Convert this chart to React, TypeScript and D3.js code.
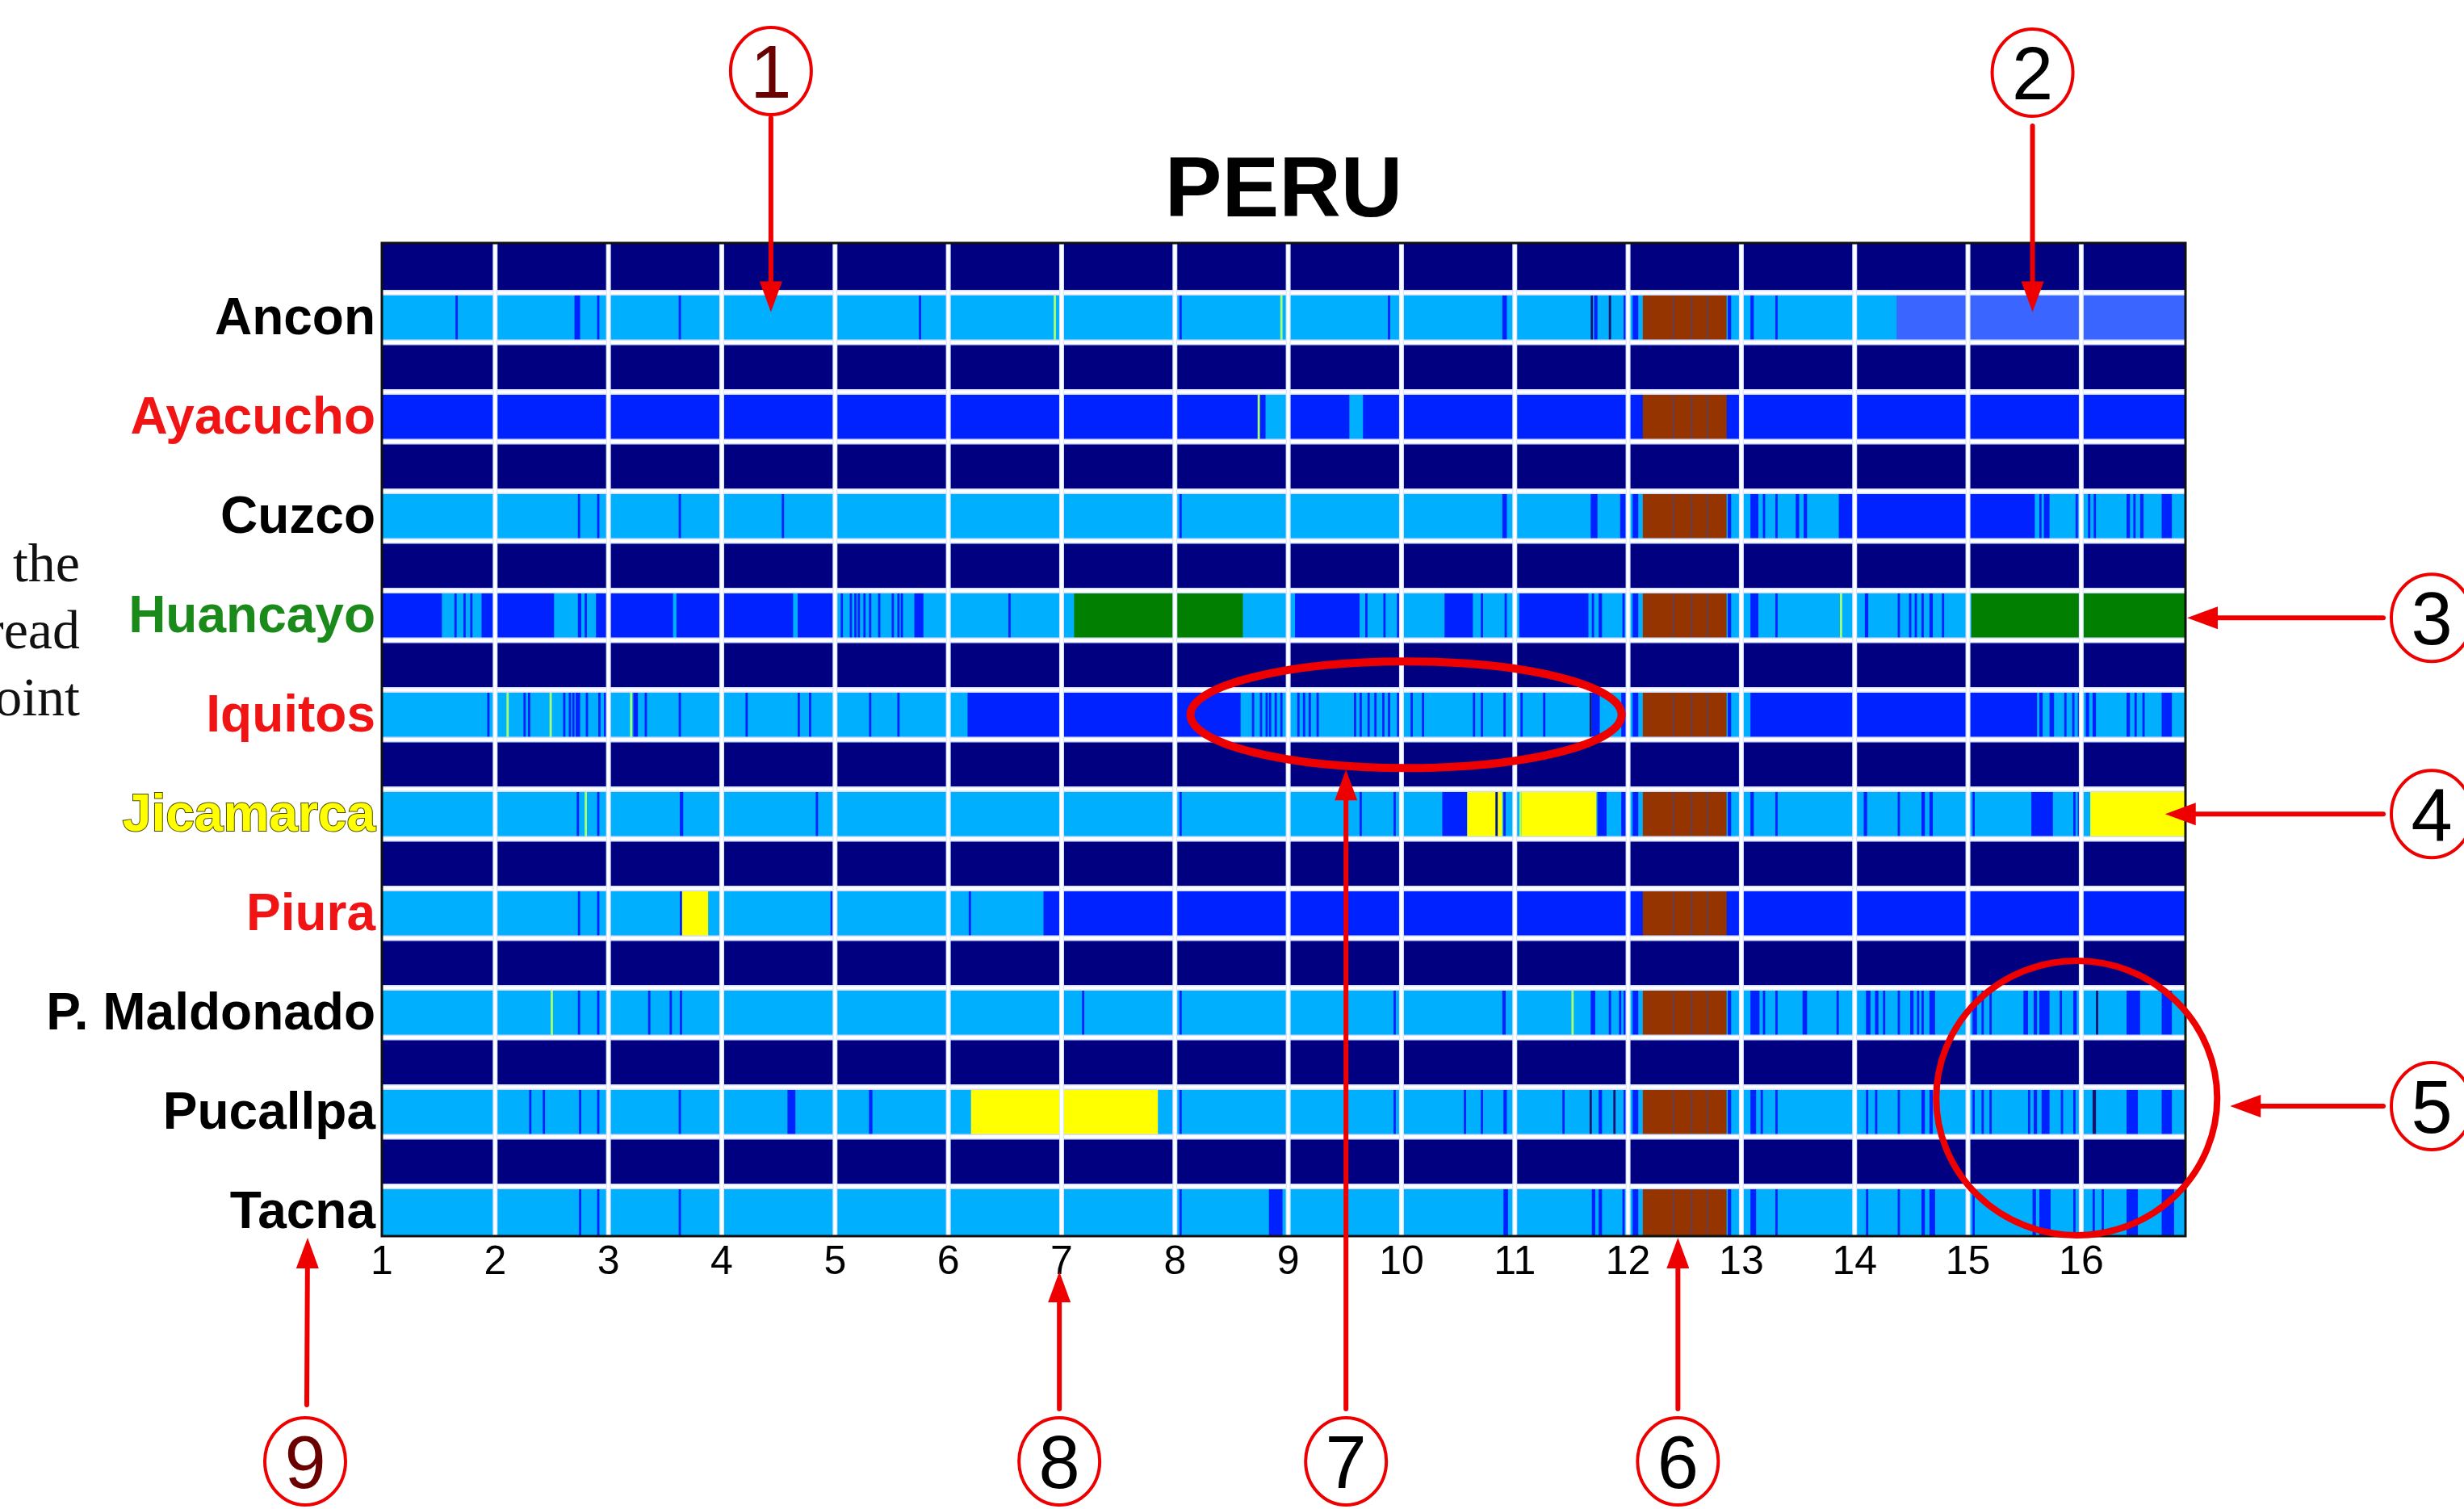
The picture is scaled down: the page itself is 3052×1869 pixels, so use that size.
import React from "react";
import * as d3 from "d3";

// ---------- DATA ----------
const stations = ["Ancon", "Ayacucho", "Cuzco", "Huancayo", "Iquitos", "Jicamarca", "Piura", "P. Maldonado", "Pucallpa", "Tacna"];
const labelColors = ["#000000", "#f01414", "#000000", "#1a8a1a", "#f01414", "#ffff00", "#f01414", "#000000", "#000000", "#000000"];
const baseCats = ["L", "B", "L", "L", "L", "L", "L", "L", "L", "L"];
const xTicks = [1, 2, 3, 4, 5, 6, 7, 8, 9, 10, 11, 12, 13, 14, 15, 16];
const xDomain = [1, 16.92];
const title = "PERU";

type Seg = [number, number, string];

// block common to every station around day 12-13
const brownBlock: Seg[] = [
  [12.04, 12.09, "B"], [12.13, 12.87, "R"], [12.39, 12.41, "D"], [12.55, 12.57, "D"], [12.69, 12.71, "D"], [12.88, 12.91, "B"],
];

const anconSegs: Seg[] = [
  [1.65, 1.67, "B"], [2.70, 2.75, "B"], [2.90, 2.92, "B"], [3.62, 3.64, "B"], [5.74, 5.76, "B"], [6.93, 6.95, "T"],
  [8.04, 8.06, "B"], [8.93, 8.95, "T"], [9.88, 9.90, "B"], [10.89, 10.93, "B"], [11.67, 11.69, "K"], [11.70, 11.73, "B"],
  [11.83, 11.85, "K"], [11.96, 11.98, "B"], [13.08, 13.11, "B"], [13.30, 13.32, "B"], [14.37, 16.92, "M"],
];
const ayacuchoSegs: Seg[] = [
  [8.73, 8.75, "T"], [8.80, 8.99, "L"], [9.54, 9.66, "L"],
];
const cuzcoSegs: Seg[] = [
  [2.73, 2.75, "B"], [2.90, 2.92, "B"], [3.62, 3.64, "B"], [4.53, 4.55, "B"], [8.04, 8.06, "B"], [10.89, 10.93, "B"],
  [11.67, 11.73, "B"], [11.93, 11.98, "B"], [13.08, 13.15, "B"], [13.19, 13.21, "B"], [13.30, 13.32, "B"], [13.48, 13.51, "B"],
  [13.55, 13.58, "B"], [13.86, 15.59, "B"], [15.63, 15.65, "B"], [15.67, 15.72, "B"], [15.95, 15.97, "B"], [16.06, 16.08, "B"],
  [16.11, 16.13, "B"], [16.40, 16.43, "B"], [16.46, 16.48, "B"], [16.52, 16.55, "B"], [16.71, 16.80, "B"],
];
const huancayoSegs: Seg[] = [
  [1.0, 1.53, "B"], [1.64, 1.66, "B"], [1.72, 1.74, "B"], [1.78, 1.80, "B"], [1.88, 2.52, "B"], [2.73, 2.76, "B"],
  [2.79, 2.81, "B"], [2.89, 3.57, "B"], [3.60, 4.63, "B"], [4.67, 5.0, "B"], [5.05, 5.07, "B"], [5.13, 5.15, "B"],
  [5.17, 5.19, "B"], [5.20, 5.22, "B"], [5.25, 5.27, "B"], [5.30, 5.32, "B"], [5.38, 5.40, "B"], [5.50, 5.52, "B"],
  [5.55, 5.57, "B"], [5.58, 5.60, "B"], [5.70, 5.78, "B"], [6.53, 6.55, "B"], [7.11, 8.60, "G"], [9.06, 9.63, "B"],
  [9.68, 9.70, "B"], [9.84, 9.86, "B"], [9.96, 9.98, "B"], [10.38, 10.63, "B"], [10.70, 10.72, "B"], [10.91, 10.93, "B"],
  [11.04, 11.65, "B"], [11.68, 11.70, "B"], [11.74, 11.77, "B"], [11.95, 11.97, "B"], [13.08, 13.15, "B"], [13.30, 13.32, "B"],
  [13.87, 13.89, "T"], [14.09, 14.12, "B"], [14.38, 14.40, "B"], [14.48, 14.50, "B"], [14.53, 14.55, "B"], [14.59, 14.61, "B"],
  [14.66, 14.69, "B"], [14.77, 14.79, "B"], [15.03, 16.92, "G"],
];
const iquitosSegs: Seg[] = [
  [1.93, 1.95, "B"], [2.10, 2.12, "T"], [2.25, 2.27, "B"], [2.29, 2.31, "B"], [2.48, 2.50, "T"], [2.60, 2.62, "B"],
  [2.65, 2.67, "B"], [2.68, 2.70, "B"], [2.71, 2.75, "B"], [2.80, 2.82, "B"], [2.91, 2.93, "B"], [2.96, 2.98, "B"],
  [3.19, 3.21, "T"], [3.22, 3.26, "B"], [3.32, 3.34, "B"], [3.62, 3.64, "B"], [4.21, 4.23, "B"], [4.67, 4.69, "B"],
  [4.77, 4.79, "B"], [5.30, 5.32, "B"], [5.55, 5.57, "B"], [6.17, 8.58, "B"], [8.68, 8.70, "B"], [8.75, 8.77, "B"],
  [8.80, 8.82, "B"], [8.83, 8.85, "B"], [8.88, 8.90, "B"], [8.93, 8.95, "B"], [9.08, 9.10, "B"], [9.13, 9.15, "B"],
  [9.18, 9.20, "B"], [9.25, 9.27, "B"], [9.58, 9.60, "B"], [9.63, 9.65, "B"], [9.70, 9.72, "B"], [9.76, 9.78, "B"],
  [9.83, 9.85, "B"], [9.88, 9.90, "B"], [9.96, 9.98, "B"], [10.08, 10.10, "B"], [10.18, 10.20, "B"], [10.63, 10.65, "B"],
  [10.70, 10.72, "B"], [10.90, 10.92, "B"], [11.05, 11.07, "B"], [11.25, 11.27, "B"], [11.66, 11.68, "K"], [11.68, 11.75, "B"],
  [11.94, 11.99, "B"], [13.08, 15.61, "B"], [15.63, 15.66, "B"], [15.72, 15.76, "B"], [15.85, 15.87, "B"], [15.92, 15.94, "B"],
  [15.97, 15.99, "B"], [16.04, 16.07, "B"], [16.10, 16.13, "B"], [16.40, 16.43, "B"], [16.47, 16.49, "B"], [16.54, 16.56, "B"],
  [16.71, 16.80, "B"],
];
const jicamarcaSegs: Seg[] = [
  [2.72, 2.74, "B"], [2.79, 2.81, "T"], [2.90, 2.92, "B"], [3.63, 3.66, "B"], [4.83, 4.85, "B"], [8.04, 8.06, "B"],
  [9.63, 9.65, "B"], [9.93, 9.95, "B"], [10.36, 10.58, "B"], [10.58, 10.83, "Y"], [10.83, 10.85, "K"], [10.85, 10.89, "Y"],
  [10.90, 10.92, "B"], [11.04, 11.06, "T"], [11.06, 11.72, "Y"], [11.73, 11.81, "B"], [11.94, 11.98, "B"], [13.08, 13.11, "B"],
  [13.30, 13.32, "B"], [14.08, 14.11, "B"], [14.38, 14.40, "B"], [14.59, 14.62, "B"], [14.66, 14.69, "B"], [15.04, 15.06, "B"],
  [15.56, 15.75, "B"], [15.93, 15.95, "B"], [15.97, 15.99, "B"], [16.08, 16.92, "Y"],
];
const piuraSegs: Seg[] = [
  [2.73, 2.75, "B"], [2.90, 2.92, "B"], [3.63, 3.65, "B"], [3.65, 3.88, "Y"], [4.96, 4.98, "B"], [6.18, 6.20, "B"],
  [6.84, 16.92, "B"],
];
const maldonadoSegs: Seg[] = [
  [2.49, 2.51, "T"], [2.73, 2.75, "B"], [2.90, 2.92, "B"], [3.35, 3.37, "B"], [3.54, 3.56, "B"], [3.63, 3.65, "B"],
  [7.18, 7.20, "B"], [8.04, 8.06, "B"], [9.93, 9.95, "B"], [10.89, 10.92, "B"], [11.50, 11.52, "T"], [11.67, 11.71, "B"],
  [11.83, 11.85, "B"], [11.92, 11.94, "B"], [11.96, 11.98, "B"], [13.08, 13.16, "B"], [13.19, 13.21, "B"], [13.30, 13.32, "B"],
  [13.54, 13.58, "B"], [13.84, 13.86, "B"], [14.10, 14.14, "B"], [14.18, 14.21, "B"], [14.25, 14.27, "B"], [14.38, 14.40, "B"],
  [14.49, 14.52, "B"], [14.55, 14.57, "B"], [14.59, 14.61, "B"], [14.66, 14.71, "B"], [15.04, 15.08, "B"], [15.12, 15.14, "B"],
  [15.19, 15.21, "B"], [15.49, 15.53, "B"], [15.58, 15.61, "B"], [15.63, 15.72, "B"], [15.81, 15.83, "B"], [15.93, 15.96, "B"],
  [16.13, 16.15, "K"], [16.40, 16.52, "B"], [16.71, 16.80, "B"],
];
const pucallpaSegs: Seg[] = [
  [2.30, 2.32, "B"], [2.42, 2.44, "B"], [2.74, 2.76, "B"], [2.90, 2.92, "B"], [3.62, 3.64, "B"], [4.58, 4.65, "B"],
  [5.30, 5.33, "B"], [6.20, 7.85, "Y"], [8.04, 8.06, "B"], [9.93, 9.95, "B"], [10.55, 10.57, "B"], [10.70, 10.72, "B"],
  [10.90, 10.93, "B"], [11.42, 11.44, "B"], [11.66, 11.68, "K"], [11.74, 11.77, "B"], [11.87, 11.89, "K"], [11.96, 11.98, "B"],
  [13.08, 13.13, "B"], [13.17, 13.19, "B"], [13.30, 13.32, "B"], [14.10, 14.12, "B"], [14.18, 14.20, "B"], [14.38, 14.40, "B"],
  [14.59, 14.62, "B"], [14.66, 14.69, "B"], [15.04, 15.06, "B"], [15.12, 15.14, "B"], [15.19, 15.21, "B"], [15.53, 15.55, "B"],
  [15.58, 15.61, "B"], [15.65, 15.72, "B"], [15.82, 15.84, "B"], [15.93, 15.95, "B"], [16.10, 16.13, "K"], [16.40, 16.50, "B"],
  [16.71, 16.80, "B"],
];
const tacnaSegs: Seg[] = [
  [2.74, 2.76, "B"], [2.90, 2.92, "B"], [3.62, 3.64, "B"], [8.04, 8.06, "B"], [8.83, 8.95, "B"], [10.90, 10.94, "B"],
  [11.68, 11.71, "B"], [11.74, 11.77, "B"], [11.95, 11.97, "B"], [13.08, 13.13, "B"], [13.30, 13.32, "B"], [14.10, 14.12, "B"],
  [14.38, 14.40, "B"], [14.59, 14.62, "B"], [14.66, 14.71, "B"], [15.04, 15.06, "B"], [15.57, 15.60, "B"], [15.63, 15.73, "B"],
  [15.93, 15.95, "B"], [16.10, 16.12, "B"], [16.18, 16.20, "B"], [16.40, 16.50, "B"], [16.71, 16.82, "B"],
];
const stationSegs: Seg[][] = [anconSegs, ayacuchoSegs, cuzcoSegs, huancayoSegs, iquitosSegs, jicamarcaSegs, piuraSegs, maldonadoSegs, pucallpaSegs, tacnaSegs];

// annotation markers (numbered callouts)
const calloutLabels = ["1", "2", "3", "4", "5", "6", "7", "8", "9"];

// ---------- STYLE ----------
const catColors: Record<string, string> = {
  L: "#00b0ff", B: "#0022ff", M: "#3a66ff", G: "#007f00", Y: "#ffff00", R: "#963400", D: "#6e3c3c", K: "#141470", T: "#a8ff70",
};
const NAVY = "#000080";
const RED = "#ee0000";

const W = 3052, H = 1869;
const PL = 473, PR = 2707, PT = 301, PB = 1531;

function Arrow({ x1, y1, x2, y2 }: { x1: number; y1: number; x2: number; y2: number }) {
  const ang = Math.atan2(y2 - y1, x2 - x1);
  const len = 38, hw = 14;
  const bx = x2 - len * Math.cos(ang), by = y2 - len * Math.sin(ang);
  const px = -Math.sin(ang) * hw, py = Math.cos(ang) * hw;
  return (
    <g>
      <line x1={x1} y1={y1} x2={bx} y2={by} stroke={RED} strokeWidth={6} strokeLinecap="round" />
      <polygon points={`${x2},${y2} ${bx + px},${by + py} ${bx - px},${by - py}`} fill={RED} />
    </g>
  );
}

function Callout({ cx, cy, label, color }: { cx: number; cy: number; label: string; color: string }) {
  return (
    <g>
      <ellipse cx={cx} cy={cy} rx={50} ry={54} fill="white" stroke={RED} strokeWidth={4} />
      <text x={cx} y={cy + 33} textAnchor="middle" fontSize={92} fontFamily="Liberation Sans, Arial, sans-serif" fill={color}>{label}</text>
    </g>
  );
}

export default function App() {
  const x = d3.scaleLinear().domain(xDomain).range([PL, PR]);
  const y = d3.scaleLinear().domain([0, 20]).range([PT, PB]);
  const font = "Liberation Sans, Arial, Helvetica, sans-serif";

  const rowTop = (i: number) => y(2 * i + 1);
  const rowBot = (i: number) => y(2 * i + 2);
  const rowMid = (i: number) => (rowTop(i) + rowBot(i)) / 2;

  const hLines = d3.range(1, 20);
  const vLines = xTicks.filter((t) => t > xDomain[0]);

  // callout geometry (anchored to chart through the scales)
  const topY = 88, botY = 1810, rightX = 3012, arrowFromRight = 2952, arrowFromBottom = 1745;
  const ell7 = { cx: x(10.04), cy: rowMid(4), rx: 267, ry: 66 };
  const ell5 = { cx: x(15.96), cy: 1360, rx: 174, ry: 170 };
  const callouts = [
    { label: calloutLabels[0], cx: x(4.434), cy: topY, color: "#6a0000", arrow: [x(4.434), 146, x(4.434), rowTop(0) + 24] },
    { label: calloutLabels[1], cx: x(15.57), cy: topY + 2, color: "#000", arrow: [x(15.57), 156, x(15.57), rowTop(0) + 24] },
    { label: calloutLabels[2], cx: rightX, cy: rowMid(3) + 3, color: "#000", arrow: [arrowFromRight, rowMid(3) + 3, x(16.92) + 2, rowMid(3) + 3] },
    { label: calloutLabels[3], cx: rightX, cy: rowMid(5), color: "#000", arrow: [arrowFromRight, rowMid(5), x(16.74), rowMid(5)] },
    { label: calloutLabels[4], cx: rightX, cy: 1370, color: "#000", arrow: [arrowFromRight, 1370, ell5.cx + ell5.rx + 16, 1370] },
    { label: calloutLabels[5], cx: x(12.44), cy: botY, color: "#000", arrow: [x(12.44), arrowFromBottom, x(12.44), PB + 2] },
    { label: calloutLabels[6], cx: x(9.51), cy: botY, color: "#000", arrow: [x(9.51), arrowFromBottom, x(9.51), ell7.cy + ell7.ry + 2] },
    { label: calloutLabels[7], cx: x(6.98), cy: botY, color: "#000", arrow: [x(6.98), arrowFromBottom, x(6.98), 1575] },
    { label: calloutLabels[8], cx: 378, cy: botY, color: "#6a0000", arrow: [380, 1740, 381, PB + 2] },
  ];

  return (
    <div style={{ position: "absolute", left: 0, top: 0 }}>
      <svg width={W} height={H} viewBox={`0 0 ${W} ${H}`} style={{ display: "block", background: "#fff" }}>
        {/* cut-off body text at left edge (as in the reference) */}
        <g fontFamily="Liberation Serif, Times New Roman, serif" fontSize={68} fill="#111" textAnchor="end">
          <text x={99} y={720}>the</text>
          <text x={99} y={803}>read</text>
          <text x={99} y={886}>point</text>
        </g>

        {/* title */}
        <text x={(PL + PR) / 2} y={268} textAnchor="middle" fontFamily={font} fontWeight="bold" fontSize={106} fill="#000">{title}</text>

        {/* plot background */}
        <rect x={PL} y={PT} width={PR - PL} height={PB - PT} fill={NAVY} />

        {/* station rows */}
        {stations.map((s, i) => {
          const y0 = rowTop(i), y1 = rowBot(i);
          const segs = [...stationSegs[i], ...brownBlock].sort((a, b) => (a[2] === "D" ? 1 : 0) - (b[2] === "D" ? 1 : 0));
          return (
            <g key={s}>
              <rect x={x(xDomain[0])} y={y0} width={x(xDomain[1]) - x(xDomain[0])} height={y1 - y0} fill={catColors[baseCats[i]]} />
              {segs.map((d, j) => (
                <rect key={j} x={x(d[0])} y={y0} width={Math.max(1.5, x(d[1]) - x(d[0]))} height={y1 - y0} fill={catColors[d[2]]} />
              ))}
            </g>
          );
        })}

        {/* grid lines */}
        {hLines.map((k) => (
          <g key={"h" + k}>
            <line x1={PL} x2={PR} y1={y(k)} y2={y(k)} stroke="#cfdcff" strokeWidth={7} />
            <line x1={PL} x2={PR} y1={y(k)} y2={y(k)} stroke="#ffffff" strokeWidth={4} />
          </g>
        ))}
        {vLines.map((t) => (
          <g key={"v" + t}>
            <line x1={x(t)} x2={x(t)} y1={PT} y2={PB} stroke="#d8e6ff" strokeWidth={6} />
            <line x1={x(t)} x2={x(t)} y1={PT} y2={PB} stroke="#ffffff" strokeWidth={3.5} />
          </g>
        ))}

        {/* frame */}
        <rect x={PL} y={PT} width={PR - PL} height={PB - PT} fill="none" stroke="#111" strokeWidth={3} />

        {/* station labels */}
        {stations.map((s, i) => (
          <text key={"l" + s} x={PL - 8} y={rowMid(i) + 21} textAnchor="end" fontFamily={font} fontWeight="bold" fontSize={64}
            fill={labelColors[i]} stroke={s === "Jicamarca" ? "#4a4a00" : "none"} strokeWidth={s === "Jicamarca" ? 2 : 0}
            style={{ paintOrder: "stroke" }}>{s}</text>
        ))}

        {/* x tick labels */}
        {xTicks.map((t) => (
          <text key={"t" + t} x={x(t)} y={1578} textAnchor="middle" fontFamily={font} fontSize={50} fill="#000">{t}</text>
        ))}

        {/* ellipses */}
        <ellipse cx={ell7.cx} cy={ell7.cy} rx={ell7.rx} ry={ell7.ry} fill="none" stroke={RED} strokeWidth={10} />
        <ellipse cx={ell5.cx} cy={ell5.cy} rx={ell5.rx} ry={ell5.ry} fill="none" stroke={RED} strokeWidth={8} />

        {/* arrows + callouts */}
        {callouts.map((c) => (
          <g key={"c" + c.label}>
            <Arrow x1={c.arrow[0]} y1={c.arrow[1]} x2={c.arrow[2]} y2={c.arrow[3]} />
            <Callout cx={c.cx} cy={c.cy} label={c.label} color={c.color} />
          </g>
        ))}
      </svg>
    </div>
  );
}
